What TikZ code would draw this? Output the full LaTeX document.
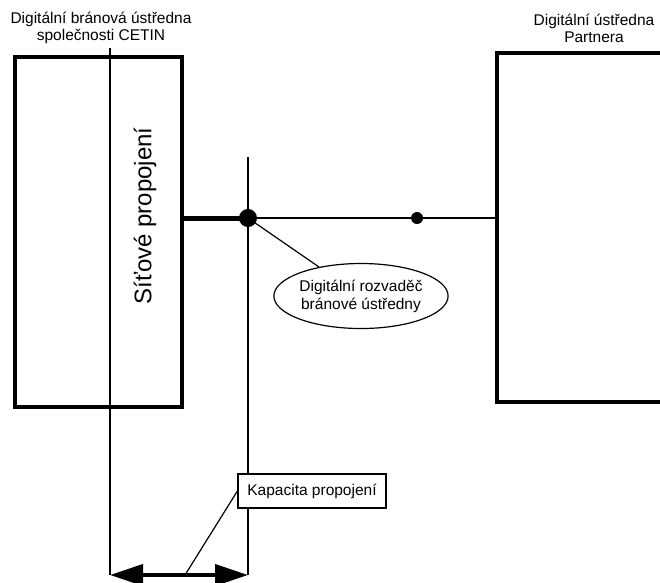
\documentclass[tikz,border=0pt]{standalone}
\usepackage{fontspec}
\setmainfont{Liberation Sans}
\usetikzlibrary{arrows.meta,shapes.geometric}

\begin{document}
\begin{tikzpicture}[x=1pt, y=-1pt, line join=miter,
        bigbox/.style={shape=rectangle, draw=black, line width=3.5pt, inner sep=0pt},
        titlenode/.style={align=center, font=\fontsize{15.5}{17}\selectfont, inner sep=0pt},
        thinline/.style={draw=black, line width=1.2pt},
        bigdotnode/.style={shape=circle, fill=black, minimum size=18pt, inner sep=0pt},
        smalldotnode/.style={shape=circle, fill=black, minimum size=12pt, inner sep=0pt},
        popisnode/.style={shape=ellipse, draw=black, line width=1.2pt, fill=white, minimum width=171pt, minimum height=65pt, inner sep=0pt, align=center, font=\fontsize{15.5}{18}\selectfont},
        kapnode/.style={shape=rectangle, draw=black, line width=1.2pt, fill=white, minimum width=148pt, minimum height=34pt, inner sep=0pt, font=\fontsize{15.5}{18}\selectfont}]
        \useasboundingbox (0,0) rectangle (660,582);
        % Titles
        \node[titlenode] (cetintitle) at (101,28) {Digitální bránová ústředna\\společnosti CETIN};
        \node[titlenode] (partnertitle) at (594,28) {Digitální ústředna\\Partnera};
        % Exchanges
        \node[bigbox, minimum width=167pt, minimum height=350pt] (cetin) at (98.5,232) {};
        \node[bigbox, minimum width=190pt, minimum height=349pt] (partner) at (592,227.5) {};
        \node[rotate=90, font=\fontsize{24}{26}\selectfont] (sitove) at (145,216) {Síťové propojení};
        % Boundary lines
        \coordinate (hraniceAtop) at (110,48);
        \coordinate (hraniceA) at (110,575);
        \coordinate (hraniceBtop) at (248,157);
        \coordinate (hraniceB) at (248,575);
        \draw[thinline] (hraniceAtop) -- (hraniceA);
        \draw[thinline] (hraniceBtop) -- (hraniceB);
        % Distribution frame and links
        \node[bigdotnode] (rozvadec) at (248,218) {};
        \node[smalldotnode] (bod) at (417,218) {};
        \draw[line width=5pt] (cetin.east |- rozvadec) -- (rozvadec.center);
        \draw[thinline] (rozvadec) -- (bod);
        \draw[line width=2pt] (bod) -- (partner.west |- bod);
        \node[popisnode] (popis) at (361,296) {Digitální rozvaděč\\bránové ústředny};
        \draw[thinline] (rozvadec.center) -- (popis);
        % Capacity
        \draw[line width=4pt, {Triangle[length=33pt, width=21pt]}-{Triangle[length=33pt, width=21pt]}] (hraniceA) -- (hraniceB);
        \coordinate (kapstred) at (185,575);
        \node[kapnode] (kapacita) at (312,491) {Kapacita propojení};
        \draw[thinline] (kapacita.west) -- (kapstred);
\end{tikzpicture}
\end{document}
